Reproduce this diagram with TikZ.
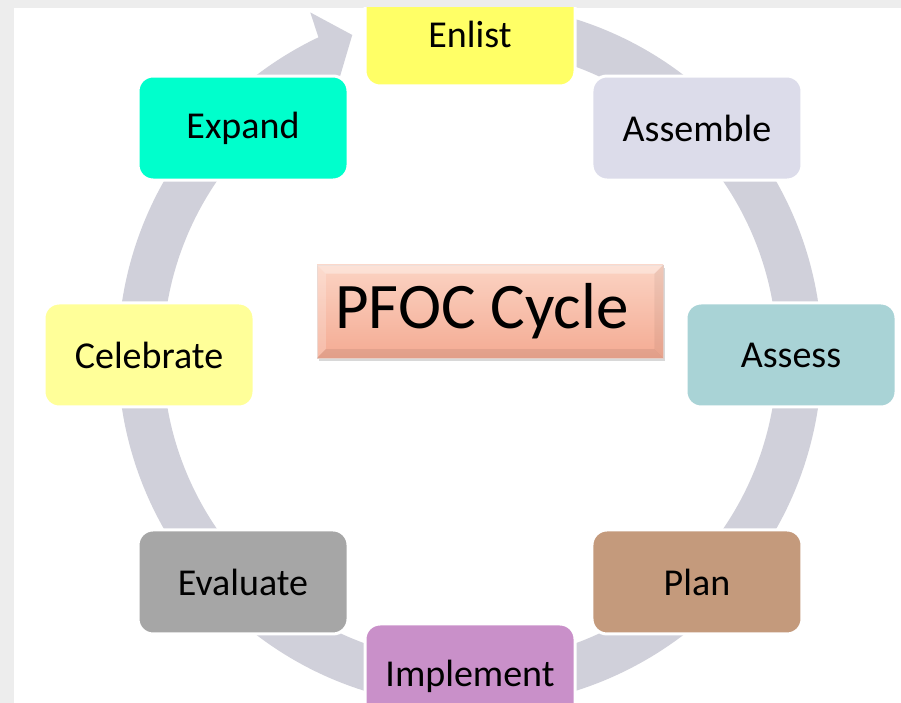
\documentclass[tikz,border=0pt]{standalone}
\usepackage{fontspec}
\setmainfont{Carlito}
\usepackage{tikz}
\usetikzlibrary{calc,positioning,shadows}
\definecolor{ringgray}{HTML}{D0D0DA}
\definecolor{enlistcol}{HTML}{FFFF66}
\definecolor{assemblecol}{HTML}{DCDCEA}
\definecolor{assesscol}{HTML}{A9D3D6}
\definecolor{plancol}{HTML}{C49A7C}
\definecolor{implcol}{HTML}{C990C9}
\definecolor{evalcol}{HTML}{A6A6A6}
\definecolor{celebcol}{HTML}{FFFF99}
\definecolor{expandcol}{HTML}{00FFCC}
\definecolor{titletop}{HTML}{FBD3C3}
\definecolor{titlebot}{HTML}{F4AB93}
\definecolor{framegray}{HTML}{EDEDED}

\begin{document}
\begin{tikzpicture}[x=1pt,y=1pt,
cyclenode/.style={rectangle, rounded corners=15pt, draw=white, line width=3pt, minimum width=210pt, minimum height=104pt, font=\fontsize{38}{40}\selectfont, text=black},
titlenode/.style={rectangle, minimum width=346pt, minimum height=93pt, top color=titletop, bottom color=titlebot, draw=titlebot!80!black!40, line width=0.5pt, drop shadow={shadow xshift=2pt, shadow yshift=-3pt, opacity=0.3}}
]
\useasboundingbox (0,0) rectangle (901,703);
% Slide background
\fill[framegray] (0,0) rectangle (901,703);
\fill[white] (14,0) rectangle (901,695);
\begin{scope}
\clip (14,0) rectangle (901,695);
\coordinate (C) at (470,348);
% Ring arrow
\fill[ringgray] ($(C)+(80:352)$) arc[start angle=80, end angle=-244.5, radius=352]
  -- ($(C)+(115:378)$) -- ($(C)+(110.2:341)$) -- ($(C)+(117:296)$) -- ($(C)+(117:307)$)
  arc[start angle=-243, end angle=80, radius=307] -- cycle;
%Nodes
\node[cyclenode, fill=enlistcol]   (enlist)    at ($(C)+(90:321)$)   {Enlist};
\node[cyclenode, fill=assemblecol] (assemble)  at ($(C)+(45:321)$)   {Assemble};
\node[cyclenode, fill=assesscol]   (assess)    at ($(C)+(0:321)$)    {Assess};
\node[cyclenode, fill=plancol]     (plan)      at ($(C)+(-45:321)$)  {Plan};
\node[cyclenode, fill=implcol]     (implement) at ($(C)+(-90:321)$)  {Implement};
\node[cyclenode, fill=evalcol]     (evaluate)  at ($(C)+(-135:321)$) {Evaluate};
\node[cyclenode, fill=celebcol]    (celebrate) at ($(C)+(180:321)$)  {Celebrate};
\node[cyclenode, fill=expandcol]   (expand)    at ($(C)+(135:321)$)  {Expand};
% Title
\node[titlenode] (title) at (490,391.5) {};
\fill[white, opacity=0.35] (title.north west) -- (title.north east) -- ++(-9,-9) -- ($(title.north west)+(9,-9)$) -- cycle;
\fill[white, opacity=0.2] (title.north west) -- ($(title.north west)+(9,-9)$) -- ($(title.south west)+(9,9)$) -- (title.south west) -- cycle;
\fill[black, opacity=0.05] (title.north east) -- ($(title.north east)+(-9,-9)$) -- ($(title.south east)+(-9,9)$) -- (title.south east) -- cycle;
\fill[black, opacity=0.07] (title.south west) -- ($(title.south west)+(9,9)$) -- ($(title.south east)+(-9,9)$) -- (title.south east) -- cycle;
\node[font=\fontsize{65}{68}\selectfont] (titletext) at ($(title)+(-8,0)$) {PFOC Cycle};
\end{scope}
\end{tikzpicture}
\end{document}
